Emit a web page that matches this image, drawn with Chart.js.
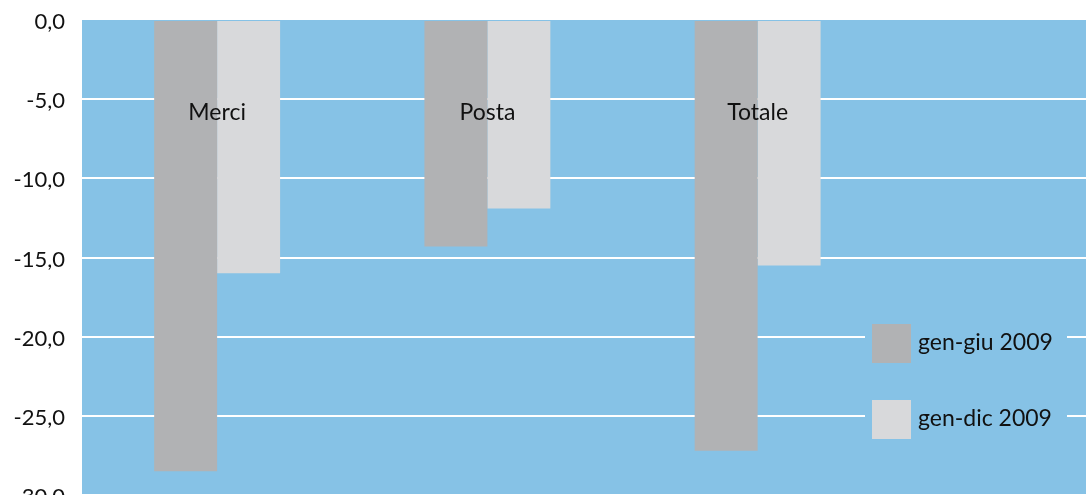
<!DOCTYPE html>
<html>
<head>
<meta charset="utf-8">
<script src="https://cdn.jsdelivr.net/npm/chart.js@4"></script>
<style>
  html, body { margin:0; padding:0; background:#fff; overflow:hidden; }
  #wrap { position:relative; width:1086px; height:510px; }
</style>
</head>
<body>
<div id="wrap"><canvas id="c"></canvas></div>
<script>
// Variazione % traffico
const categories = ['Merci', 'Posta', 'Totale'];
const genGiu = [-28.5, -14.3, -27.2];
const genDic = [-16.0, -11.9, -15.5];
const seriesNames = ['gen-giu 2009', 'gen-dic 2009'];
const yTicks = [0, -5, -10, -15, -20, -25, -30];

const FONT = 'Lato, "Open Sans", sans-serif';
const PLOT_BG = '#86c2e6';
const COL_DARK = '#b1b2b4';
const COL_LIGHT = '#d8d9db';

const plotBg = {
  id: 'plotBg',
  beforeDraw(chart) {
    const { ctx, chartArea: a } = chart;
    ctx.save();
    ctx.fillStyle = PLOT_BG;
    ctx.fillRect(a.left, a.top, a.right - a.left, a.bottom - a.top);
    ctx.restore();
  }
};

// category names sit inside the plot, over each pair of bars
const catLabels = {
  id: 'catLabels',
  afterDatasetsDraw(chart) {
    const { ctx } = chart;
    const x = chart.scales.x;
    ctx.save();
    ctx.font = '23px ' + FONT;
    ctx.fillStyle = '#111';
    ctx.textAlign = 'center';
    ctx.textBaseline = 'alphabetic';
    categories.forEach((c, i) => {
      ctx.fillText(c, x.getPixelForValue(i), 120);
    });
    ctx.restore();
  }
};

// legend box drawn inside the plot area, lower right
const innerLegend = {
  id: 'innerLegend',
  afterDraw(chart) {
    const { ctx } = chart;
    ctx.save();
    ctx.fillStyle = PLOT_BG;
    ctx.fillRect(865, 312, 202, 138);
    ctx.font = '23px ' + FONT;
    ctx.textBaseline = 'middle';
    ctx.textAlign = 'left';
    chart.data.datasets.forEach((ds, i) => {
      const y = 324 + i * 76;
      ctx.fillStyle = ds.backgroundColor;
      ctx.fillRect(872, y, 39, 39);
      ctx.fillStyle = '#111';
      ctx.fillText(ds.label, 918, y + 19);
    });
    ctx.restore();
  }
};

new Chart(document.getElementById('c'), {
  type: 'bar',
  data: {
    datasets: [
      { label: seriesNames[0], data: genGiu.map((v, i) => ({ x: i, y: v })), backgroundColor: COL_DARK },
      { label: seriesNames[1], data: genDic.map((v, i) => ({ x: i, y: v })), backgroundColor: COL_LIGHT }
    ]
  },
  options: {
    responsive: true,
    maintainAspectRatio: false,
    animation: false,
    layout: { padding: { top: 20, bottom: 15, left: 0, right: 0 } },
    datasets: { bar: { categoryPercentage: 0.466, barPercentage: 1.0, borderWidth: 0 } },
    plugins: { legend: { display: false }, tooltip: { enabled: false } },
    scales: {
      x: {
        type: 'linear', min: -0.5, max: 3.215, offset: false, display: false,
        afterBuildTicks: s => { s.ticks = categories.map((c, i) => ({ value: i })); }
      },
      y: {
        min: -30, max: 0,
        afterBuildTicks: s => { s.ticks = yTicks.map(v => ({ value: v })); },
        afterFit: s => { s.width = 82; s.paddingTop = 0; s.paddingBottom = 0; },
        border: { display: false },
        grid: {
          color: c => c.tick && c.tick.value === 0 ? 'rgba(0,0,0,0)' : '#ffffff',
          lineWidth: 2,
          drawTicks: false
        },
        ticks: {
          padding: 17,
          labelOffset: 2,
          color: '#111',
          font: { family: FONT, size: 22, lineHeight: 1 },
          callback: v => v.toFixed(1).replace('.', ',')
        }
      }
    }
  },
  plugins: [plotBg, catLabels, innerLegend]
});
</script>
</body>
</html>
